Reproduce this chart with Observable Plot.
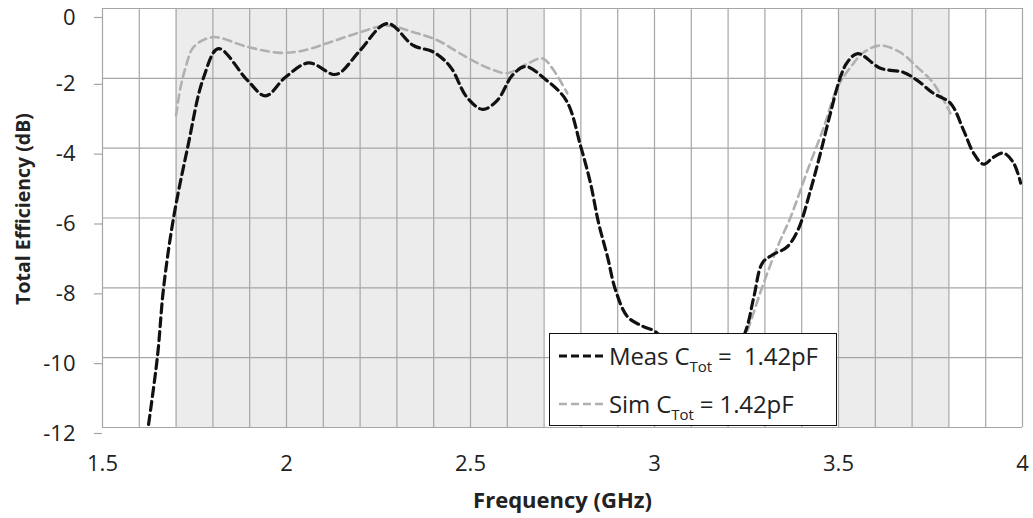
<!DOCTYPE html>
<html>
<head>
<meta charset="utf-8">
<script src="https://cdn.jsdelivr.net/npm/d3@7"></script>
<script src="https://cdn.jsdelivr.net/npm/@observablehq/plot@0.6"></script>
<style>
  body { margin: 0; background: #fff; }
  #wrap { position: relative; width: 1033px; height: 518px; font-family: "Open Sans", sans-serif; }
  #legend { position: absolute; left: 549px; top: 333px; width: 286px; height: 91px; background: #fff; border: 1.5px solid #111; box-sizing: content-box; }
  .row { position: absolute; left: 8px; display: flex; align-items: center; font-size: 24px; color: #222; white-space: pre; letter-spacing: -0.1px; }
  .row sub { font-size: 15px; vertical-align: -7px; line-height: 0; }
</style>
</head>
<body>
<div id="wrap"></div>
<script>
// ---- data ----
const measX = [1.62, 1.649, 1.666, 1.693, 1.731, 1.774, 1.815, 1.894, 1.943, 1.997, 2.06, 2.128, 2.147, 2.20, 2.274, 2.345, 2.40, 2.446, 2.49, 2.533, 2.573, 2.614, 2.65, 2.70, 2.76, 2.80, 2.826, 2.848, 2.872, 2.894, 2.927, 2.97, 3.003, 3.1, 3.2, 3.247, 3.27, 3.293, 3.32, 3.36, 3.39, 3.424, 3.451, 3.478, 3.505, 3.524, 3.552, 3.614, 3.677, 3.714, 3.758, 3.804, 3.84, 3.867, 3.894, 3.921, 3.948, 3.976, 3.995];
const measY = [-12.3, -10, -8, -6, -4, -2, -1.15, -2.06, -2.5, -1.97, -1.56, -1.89, -1.83, -1.2, -0.43, -1.06, -1.25, -1.68, -2.54, -2.89, -2.63, -1.91, -1.66, -2.0, -2.63, -3.97, -5.0, -6.14, -7.1, -8.06, -8.83, -9.11, -9.26, -10.4, -10.2, -9.26, -8.26, -7.29, -7.06, -6.83, -6.34, -5.2, -4.14, -3.0, -1.97, -1.54, -1.29, -1.71, -1.83, -2.06, -2.43, -2.71, -3.49, -4.14, -4.46, -4.26, -4.14, -4.43, -5.0];
const simX = [1.70, 1.712, 1.726, 1.748, 1.80, 1.894, 1.984, 2.047, 2.12, 2.20, 2.274, 2.345, 2.41, 2.49, 2.554, 2.60, 2.655, 2.696, 2.726, 2.763,
              3.2, 3.25, 3.293, 3.334, 3.37, 3.416, 3.46, 3.497, 3.533, 3.568, 3.614, 3.668, 3.714, 3.758, 3.804];
const simY = [-3.06, -2.26, -1.68, -1.1, -0.82, -1.1, -1.27, -1.2, -0.96, -0.68, -0.49, -0.68, -0.91, -1.4, -1.73, -1.85, -1.58, -1.43, -1.77, -2.43,
              -10.6, -9.3, -7.97, -6.83, -5.97, -4.63, -3.4, -2.26, -1.68, -1.26, -1.06, -1.26, -1.68, -2.14, -3.0];
const simSeg = [1,1,1,1,1,1,1,1,1,1,1,1,1,1,1,1,1,1,1,1, 2,2,2,2,2,2,2,2,2,2,2,2,2,2,2];
const bandStart = [1.7, 3.5];
const bandEnd = [2.7, 3.8];
const xTicks = [1.5, 2, 2.5, 3, 3.5, 4];
const xGrid = [1.5, 1.6, 1.7, 1.8, 1.9, 2.0, 2.1, 2.2, 2.3, 2.4, 2.5, 2.6, 2.7, 2.8, 2.9, 3.0, 3.1, 3.2, 3.3, 3.4, 3.5, 3.6, 3.7, 3.8, 3.9, 4.0];
const yTicks = [0, -2, -4, -6, -8, -10, -12];
const seriesNames = ["Meas", "Sim"];

const meas = measX.map((x, i) => ({x, y: measY[i]}));
const sim = simX.map((x, i) => ({x, y: simY[i], seg: simSeg[i]}));
const bands = bandStart.map((s, i) => ({x1: s, x2: bandEnd[i]}));

const gridColor = "#a6a6a6";
const yAxisOpts = {tickSize: 8, tickPadding: 19, stroke: gridColor, strokeWidth: 1.2, tickFormat: d => String(d), label: null, fontSize: 22, fill: "#222"};
const chart = Plot.plot({
  width: 1033,
  height: 518,
  marginTop: 8,
  marginBottom: 91,
  marginLeft: 102,
  marginRight: 11,
  style: {fontFamily: "'Open Sans', sans-serif", fontSize: "22px", color: "#222", background: "#fff", overflow: "visible"},
  x: {type: "linear", domain: [1.5, 4]},
  y: {type: "linear", domain: [-12, 0]},
  marks: [
    Plot.rect(bands, {x1: "x1", x2: "x2", y1: -12, y2: 0, fill: "#ececec"}),
    Plot.ruleX(xGrid, {stroke: gridColor, strokeWidth: 1.2}),
    Plot.ruleY(yTicks, {stroke: gridColor, strokeWidth: 1.2}),
    Plot.axisX(xTicks, {tickSize: 0, tickPadding: 28, tickFormat: d => String(d), label: null, fontSize: 22, fill: "#222"}),
    Plot.axisY(yTicks.filter(d => d !== 0), {...yAxisOpts, dy: 6}),
    Plot.axisY(yTicks.filter(d => d === 0), {...yAxisOpts, dy: 9}),
    Plot.line(sim, {x: "x", y: "y", z: "seg", curve: "catmull-rom", stroke: "#b0b0b0", strokeWidth: 2.6, strokeDasharray: "8,5", clip: true}),
    Plot.line(meas, {x: "x", y: "y", curve: "catmull-rom", stroke: "#111", strokeWidth: 3.2, strokeDasharray: "9,5", clip: true}),
    Plot.text(["Frequency (GHz)"], {frameAnchor: "bottom", dy: 80, fontWeight: "bold", fontSize: 22, fill: "#222"}),
    Plot.text(["Total Efficiency (dB)"], {frameAnchor: "left", textAnchor: "middle", dx: -79, dy: -9, rotate: -90, fontWeight: "bold", fontSize: 19.5, fill: "#222"})
  ]
});
const wrap = document.getElementById("wrap");
wrap.appendChild(chart);

const legend = document.createElement("div");
legend.id = "legend";
const items = [
  {name: seriesNames[0], stroke: "#111", w: 3.2, dash: "8,4", gap: "  "},
  {name: seriesNames[1], stroke: "#b0b0b0", w: 2.6, dash: "8,4", gap: " "}
];
items.forEach((it, i) => {
  const row = document.createElement("div");
  row.className = "row";
  row.style.top = (i === 0 ? 5 : 53) + "px";
  row.innerHTML = `<svg width="50" height="10" style="margin-right:1px"><line x1="1" y1="5" x2="49" y2="5" stroke="${it.stroke}" stroke-width="${it.w}" stroke-dasharray="${it.dash}"/></svg><span>${it.name} C<sub>Tot</sub> =${it.gap}1.42pF</span>`;
  legend.appendChild(row);
});
wrap.appendChild(legend);
</script>
</body>
</html>
